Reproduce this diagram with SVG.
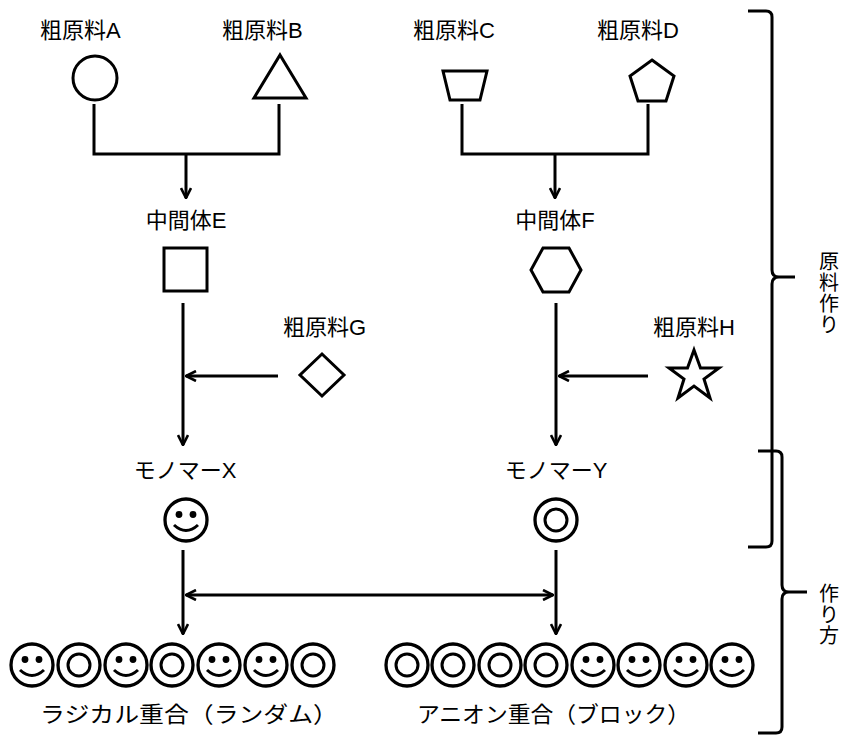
<svg xmlns="http://www.w3.org/2000/svg" width="846" height="735" viewBox="0 0 846 735">
<style>
text{font-family:"Liberation Sans","Noto Sans CJK JP",sans-serif;font-size:22px;fill:#000}
text.v{font-size:20px}
.s{fill:#fff;stroke:#000;stroke-width:3;stroke-linejoin:miter}
.l{fill:none;stroke:#000;stroke-width:3}
.a{fill:none;stroke:#000;stroke-width:3;marker-end:url(#ah)}
.dot{fill:#000}
</style>
<defs>
<marker id="ah" viewBox="0 0 12 12" refX="11" refY="6" markerWidth="12" markerHeight="12" markerUnits="userSpaceOnUse" orient="auto-start-reverse">
<path d="M1,1 L11,6 L1,11" fill="none" stroke="#000" stroke-width="2.6"/>
</marker>
<g id="smile">
<circle class="s" r="21" style="stroke-width:3.3"/>
<circle class="dot" cx="-7" cy="-5.5" r="3.4"/>
<circle class="dot" cx="7" cy="-5.5" r="3.4"/>
<path class="l" d="M-12,5 Q0,16 12,5"/>
</g>
<g id="target">
<circle class="s" r="21" style="stroke-width:3.3"/>
<circle class="s" r="11"/>
</g>
</defs>
<rect width="846" height="735" fill="#fff"/>

<g id="connectors">
<path class="l" d="M94,104 V154 H279 V104"/>
<path class="a" d="M186,154 V198"/>
<path class="l" d="M462,104 V154 H648 V104"/>
<path class="a" d="M555,154 V198"/>
<path class="a" d="M183,303 V445"/>
<path class="a" d="M278,376 H186"/>
<path class="a" d="M556,303 V445"/>
<path class="a" d="M648,376 H559"/>
<path class="a" d="M183,550 V634"/>
<path class="a" d="M556,550 V634"/>
<path class="a" style="marker-start:url(#ah)" d="M186,595 H553"/>
</g>

<g id="nodeA"><text x="40" y="38">粗原料A</text><circle class="s" cx="95" cy="78" r="22"/></g>
<g id="nodeB"><text x="222" y="38">粗原料B</text><polygon class="s" points="280,55 306,98 254,98"/></g>
<g id="nodeC"><text x="413" y="38">粗原料C</text><polygon class="s" points="443,71 487,71 480,100 450,100"/></g>
<g id="nodeD"><text x="597" y="38">粗原料D</text><polygon class="s" points="652,60 674,76 666,101 638,101 630,76"/></g>
<g id="nodeE"><text x="186" y="228" text-anchor="middle">中間体E</text><rect class="s" x="164" y="248" width="43" height="43"/></g>
<g id="nodeF"><text x="555" y="228" text-anchor="middle">中間体F</text><polygon class="s" points="543,248 569,248 581,270 569,292 543,292 531,270"/></g>
<g id="nodeG"><text x="283" y="335">粗原料G</text><polygon class="s" points="322,354 344,375 322,396 300,375"/></g>
<g id="nodeH"><text x="653" y="335">粗原料H</text><polygon class="s" points="694,350 700.5,368 719,368 704,379 710,398 694,386 678,398 684,379 669,368 687.5,368"/></g>
<g id="nodeX"><text x="185" y="478" text-anchor="middle">モノマーX</text><use href="#smile" x="186" y="520"/></g>
<g id="nodeY"><text x="556" y="478" text-anchor="middle">モノマーY</text><use href="#target" x="556" y="520"/></g>

<g id="polyRandom">
<use href="#smile" x="32" y="665"/>
<use href="#target" x="79" y="665"/>
<use href="#smile" x="126" y="665"/>
<use href="#target" x="172" y="665"/>
<use href="#smile" x="219" y="665"/>
<use href="#smile" x="266" y="665"/>
<use href="#target" x="313" y="665"/>
<text x="40" y="722" textLength="298" lengthAdjust="spacingAndGlyphs">ラジカル重合（ランダム）</text>
</g>
<g id="polyBlock">
<use href="#target" x="407" y="665"/>
<use href="#target" x="453" y="665"/>
<use href="#target" x="500" y="665"/>
<use href="#target" x="546" y="665"/>
<use href="#smile" x="593" y="665"/>
<use href="#smile" x="639" y="665"/>
<use href="#smile" x="686" y="665"/>
<use href="#smile" x="732" y="665"/>
<text x="417" y="722" textLength="273" lengthAdjust="spacingAndGlyphs">アニオン重合（ブロック）</text>
</g>

<g id="brace1">
<path class="l" d="M748,11 H766 Q772,11 772,17 V270 Q772,277 779,277 H795 M779,277 Q772,277 772,284 V541 Q772,547 766,547 H748"/>
<text class="v" x="819" y="269">原</text><text class="v" x="819" y="290">料</text><text class="v" x="819" y="311">作</text><text class="v" x="819" y="332">り</text>
</g>
<g id="brace2">
<path class="l" d="M758,451 H776 Q782,451 782,457 V585 Q782,592 789,592 H807 M789,592 Q782,592 782,599 V727 Q782,733 776,733 H758"/>
<text class="v" x="819" y="601">作</text><text class="v" x="819" y="622">り</text><text class="v" x="819" y="643">方</text>
</g>
</svg>
